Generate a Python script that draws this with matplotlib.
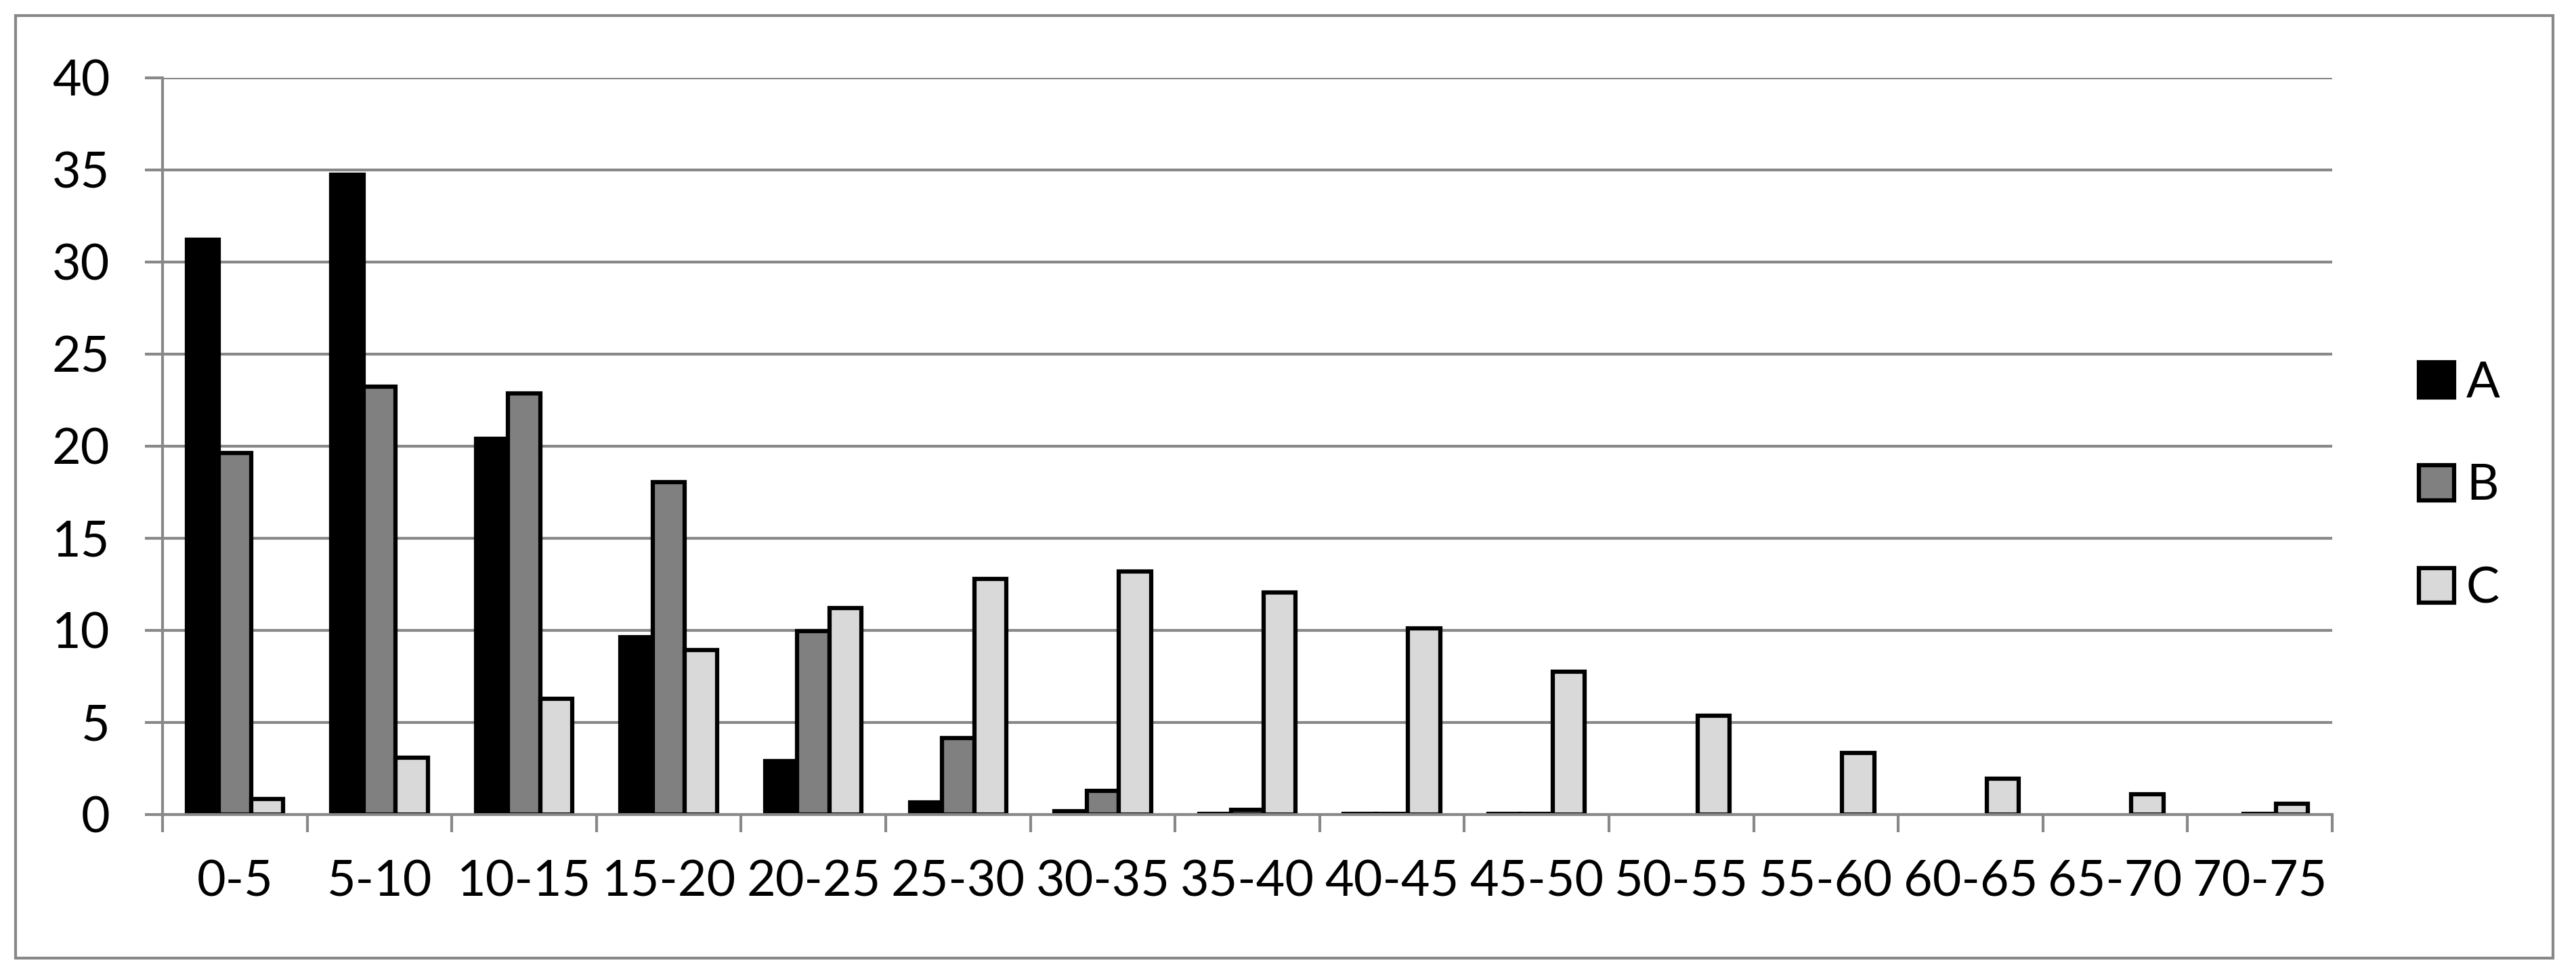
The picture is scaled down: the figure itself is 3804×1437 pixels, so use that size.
import numpy as np
import matplotlib
matplotlib.use("Agg")
import matplotlib.pyplot as plt
from matplotlib.patches import Rectangle

# age classes and the three series
categories = ["0-5", "5-10", "10-15", "15-20", "20-25", "25-30", "30-35", "35-40",
              "40-45", "45-50", "50-55", "55-60", "60-65", "65-70", "70-75"]
series_a = [31.2, 34.75, 20.4, 9.65, 2.9, 0.65, 0.2, 0.05, 0.02, 0.02, 0, 0, 0, 0, 0]
series_b = [19.65, 23.25, 22.85, 18.05, 9.95, 4.15, 1.3, 0.25, 0.02, 0.02, 0, 0, 0, 0, 0.05]
series_c = [0.85, 3.1, 6.3, 8.95, 11.2, 12.8, 13.2, 12.05, 10.1, 7.75, 5.35, 3.35, 1.95, 1.1, 0.6]
labels = ["A", "B", "C"]
yticks = [0, 5, 10, 15, 20, 25, 30, 35, 40]

W, H, DPI = 3805, 1437, 100
grid_col = "#888888"
plt.rcParams["font.family"] = ["Lato", "DejaVu Sans"]
fs = 53

fig = plt.figure(figsize=(W / DPI, H / DPI), dpi=DPI)
ax = fig.add_axes([240 / W, 1 - 1203 / H, (3444 - 240) / W, (1203 - 115) / H])

x = np.arange(len(categories))
w = 1 / 4.5
fills = ["black", "#808080", "#d9d9d9"]
handles = []
for i, (vals, col, lab) in enumerate(zip([series_a, series_b, series_c], fills, labels)):
    vals = np.array(vals)
    edges = ["black" if v > 0 else "none" for v in vals]
    ax.bar(x + (i - 1) * w, vals, width=w, color=col, edgecolor=edges,
           linewidth=4.5, zorder=3, label=lab)
    handles.append(Rectangle((0, 0), 1, 1, facecolor=col, edgecolor="black", linewidth=4.5))

ax.set_xlim(-0.5, len(categories) - 0.5)
ax.set_ylim(0, 40)
ax.set_yticks(yticks)
ax.set_yticklabels([str(t) for t in yticks], fontsize=fs)
ax.set_xticks(x)
ax.set_xticklabels(categories, fontsize=fs)
ax.set_xticks(np.arange(-0.5, len(categories)), minor=True)
ax.tick_params(axis="x", which="major", length=0, pad=48)
ax.tick_params(axis="x", which="minor", length=19, width=3.0, color=grid_col)
ax.tick_params(axis="y", length=19, width=3.0, color=grid_col, pad=37)

ax.yaxis.grid(True, color=grid_col, linewidth=3.0, zorder=0)
ax.set_axisbelow(True)
for side in ["top", "right"]:
    ax.spines[side].set_visible(False)
for side in ["left", "bottom"]:
    ax.spines[side].set_color(grid_col)
    ax.spines[side].set_linewidth(3.0)
    ax.spines[side].set_zorder(4)

fig.legend(handles, labels, loc="center left", bbox_to_anchor=(3572 / W, 1 - 718 / H),
           frameon=False, fontsize=fs, handlelength=0.7, handleheight=0.7,
           handletextpad=0.25, labelspacing=1.15, borderpad=0, borderaxespad=0)

# outer chart frame
fig.patches.append(Rectangle((23 / W, 1 - 1415 / H), (3770 - 23) / W, (1415 - 23) / H,
                             transform=fig.transFigure, fill=False,
                             edgecolor=grid_col, linewidth=3.0))

fig.savefig("out.png", dpi=DPI)
